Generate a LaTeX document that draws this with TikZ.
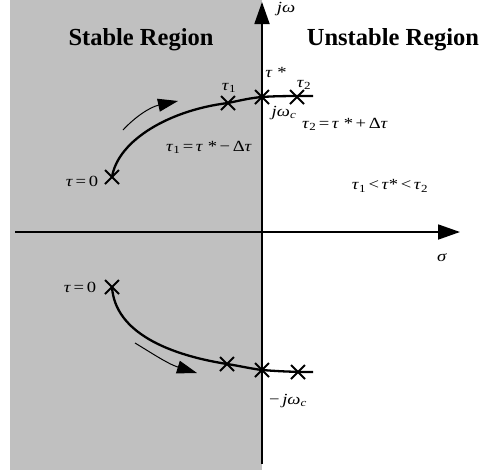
\documentclass[tikz,border=0pt]{standalone}
\usepackage{fontspec}
\setmainfont{Liberation Serif}
\newfontfamily\labfont[FakeStretch=1.2]{Liberation Serif}
\usetikzlibrary{arrows.meta,shapes.misc}
\definecolor{regiongray}{RGB}{192,192,192}
\tikzset{
  xmark/.style={cross out, draw, line width=2pt, minimum size=12pt, inner sep=0pt},
  lab/.style={font=\labfont\fontsize{15.5}{18}\selectfont, inner sep=0pt},
  big/.style={font=\fontsize{24.5}{28}\selectfont\bfseries, inner sep=0pt},
  axis/.style={line width=1.8pt, -{Triangle[length=22pt,width=15pt]}},
  locus/.style={line width=2.3pt},
  dirarrow/.style={line width=1pt, -{Triangle[length=20pt,width=13pt]}}
}
\newcommand{\ta}{\textit{τ}}
\begin{document}
\begin{tikzpicture}[x=1pt,y=-1pt]
\useasboundingbox (0,0) rectangle (482,472);
% stable half-plane
\fill[regiongray] (10,0) rectangle (262,470);
% axes
\coordinate (vb) at (262,464);
\coordinate (vt) at (262,2);
\coordinate (hl) at (15,232);
\coordinate (hr) at (460,232);
\draw[axis] (vb) -- (vt);
\draw[axis] (hl) -- (hr);
% region titles
\node[big] (stable) at (141,40) {Stable Region};
\node[big] (unstable) at (393,40) {Unstable Region};
% axis labels
\node[lab] (jw) at (286,9) {\textit{jω}};
\node[lab] (sigma) at (442,258) {\textit{σ}};
% upper locus
\node[xmark] (u0) at (112,177) {};
\node[xmark] (u1) at (228,103) {};
\node[xmark] (us) at (262,97) {};
\node[xmark] (u2) at (297,97) {};
\coordinate (uend) at (313,96);
\draw[locus] (u0.center) .. controls (118,140) and (170,110) .. (u1.center)
  .. controls (240,100.5) and (250,98) .. (us.center)
  .. controls (275,96) and (290,96) .. (uend);
% lower locus
\node[xmark] (l0) at (112,287) {};
\node[xmark] (l1) at (227,364) {};
\node[xmark] (ls) at (262,370) {};
\node[xmark] (l2) at (298,372) {};
\coordinate (lend) at (313,372);
\draw[locus] (l0.center) .. controls (115,333) and (170,355) .. (l1.center)
  .. controls (240,366) and (250,368.5) .. (ls.center)
  .. controls (275,371) and (290,372) .. (lend);
% direction arrows
\coordinate (ua0) at (123,130);
\coordinate (ua1) at (178,101);
\draw[dirarrow] (ua0) .. controls (135,117) and (150,107) .. (ua1);
\coordinate (la0) at (135,343);
\coordinate (la1) at (197,373);
\draw[dirarrow] (la0) .. controls (150,352) and (168,364) .. (la1);
% labels
\node[lab] (t0u) at (82,181) {\ta\,=\,0};
\node[lab] (t0l) at (80,287) {\ta\,=\,0};
\node[lab] (t1) at (229,88) {\ta\textsubscript{1}};
\node[lab] (ts) at (276,72) {\ta\ *};
\node[lab] (t2) at (304,85) {\ta\textsubscript{2}};
\node[lab] (jwc) at (284,113) {\textit{jω}\textsubscript{\textit{c}}};
\node[lab] (t2eq) at (345,124) {\ta\textsubscript{2}\,=\,\ta\ *\,+\,Δ\ta};
\node[lab] (t1eq) at (209,147) {\ta\textsubscript{1}\,=\,\ta\ *\,−\,Δ\ta};
\node[lab] (ineq) at (390,186) {\ta\textsubscript{1}\,<\,\ta*\,<\,\ta\textsubscript{2}};
\node[lab] (mjwc) at (288,401) {−\,\textit{jω}\textsubscript{\textit{c}}};
\end{tikzpicture}
\end{document}
